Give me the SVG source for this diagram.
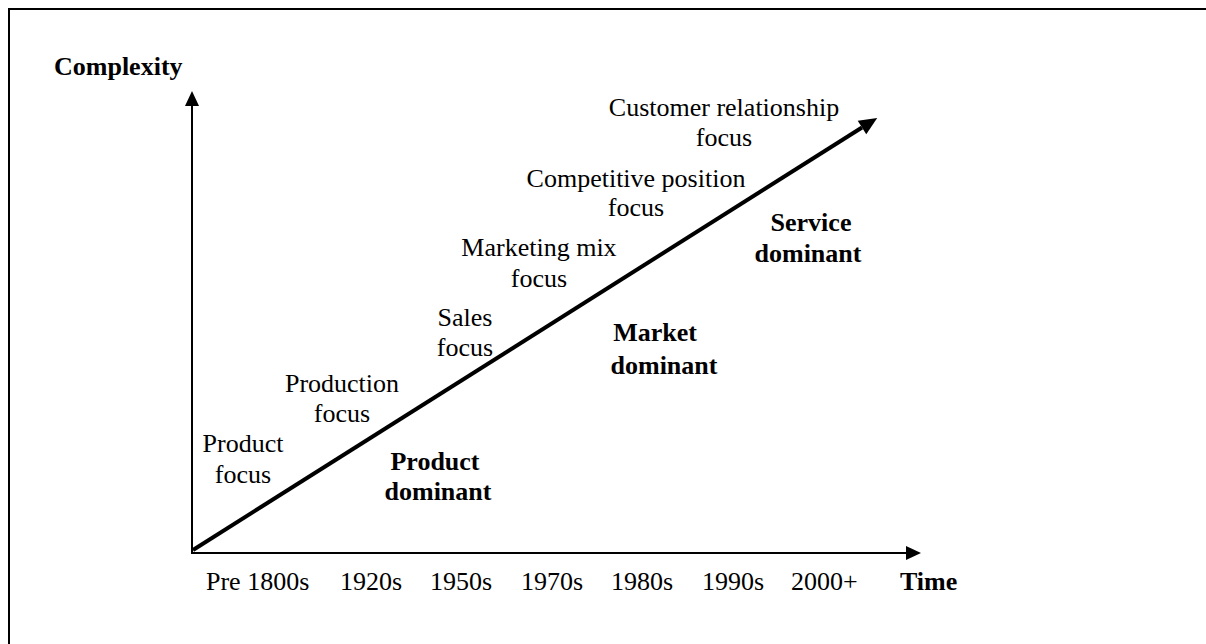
<svg xmlns="http://www.w3.org/2000/svg" width="1206" height="644" viewBox="0 0 1206 644">
<style>
.t{font-family:"Liberation Serif","Times New Roman",serif;font-size:26px;fill:#000}
.b{font-weight:bold}
.m{text-anchor:middle}
.ax{stroke:#000;stroke-width:2;fill:none}
.dg{stroke:#000;stroke-width:4;fill:none}
</style>
<defs>
<marker id="ah" markerUnits="userSpaceOnUse" markerWidth="15" markerHeight="14" refX="0" refY="7" orient="auto" overflow="visible">
<path d="M0,0 L15,7 L0,14 z" fill="#000"/>
</marker>
<marker id="ah2" markerUnits="userSpaceOnUse" markerWidth="18" markerHeight="16" refX="0" refY="8" orient="auto" overflow="visible">
<path d="M0,0 L18,8 L0,16 z" fill="#000"/>
</marker>
</defs>
<rect width="1206" height="644" fill="#fff"/>
<g id="frame">
<line x1="9" y1="9" x2="1206" y2="9" stroke="#000" stroke-width="2"/>
<line x1="9" y1="8" x2="9" y2="644" stroke="#000" stroke-width="2"/>
</g>
<g id="connectors">
<line class="ax" x1="192" y1="553" x2="192" y2="106" marker-end="url(#ah)"/>
<line class="ax" x1="191" y1="553" x2="906" y2="553" marker-end="url(#ah)"/>
<line class="dg" x1="193" y1="550" x2="862" y2="127.5" marker-end="url(#ah2)"/>
</g>
<g id="axis-labels">
<text class="t b" x="54" y="75">Complexity</text>
<text class="t b" x="900" y="590">Time</text>
</g>
<g id="time-labels">
<text class="t" x="206" y="590">Pre 1800s</text>
<text class="t" x="340" y="590">1920s</text>
<text class="t" x="430" y="590">1950s</text>
<text class="t" x="521" y="590">1970s</text>
<text class="t" x="611" y="590">1980s</text>
<text class="t" x="702" y="590">1990s</text>
<text class="t" x="791" y="590">2000+</text>
</g>
<g id="product-focus"><text class="t m" x="243" y="452">Product</text><text class="t m" x="243" y="483">focus</text></g>
<g id="production-focus"><text class="t m" x="342" y="392">Production</text><text class="t m" x="342" y="422">focus</text></g>
<g id="sales-focus"><text class="t m" x="465" y="326">Sales</text><text class="t m" x="465" y="356">focus</text></g>
<g id="marketing-mix-focus"><text class="t m" x="539" y="256">Marketing mix</text><text class="t m" x="539" y="287">focus</text></g>
<g id="competitive-position-focus"><text class="t m" x="636" y="187">Competitive position</text><text class="t m" x="636" y="216">focus</text></g>
<g id="customer-relationship-focus"><text class="t m" x="724" y="116">Customer relationship</text><text class="t m" x="724" y="146">focus</text></g>
<g id="product-dominant"><text class="t b m" x="435" y="470">Product</text><text class="t b m" x="438" y="500">dominant</text></g>
<g id="market-dominant"><text class="t b m" x="655" y="341">Market</text><text class="t b m" x="664" y="374">dominant</text></g>
<g id="service-dominant"><text class="t b m" x="811" y="231">Service</text><text class="t b m" x="808" y="262">dominant</text></g>
</svg>
